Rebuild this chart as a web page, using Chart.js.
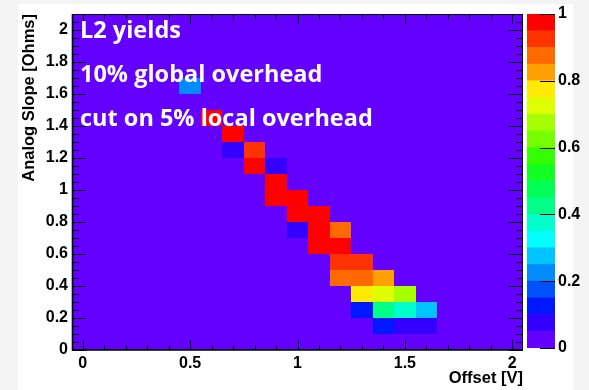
<!DOCTYPE html>
<html>
<head>
<meta charset="utf-8">
<title>L2 yields</title>
<script src="https://cdn.jsdelivr.net/npm/chart.js@4/dist/chart.umd.min.js"></script>
<style>
  html, body { margin: 0; padding: 0; width: 589px; height: 390px; overflow: hidden; background: #f4f4f4; }
  #sheet { position: absolute; left: 18px; top: 4px; width: 555px; height: 386px; background: #ffffff; }
  #main  { position: absolute; left: 0; top: 0; }
  #scale { position: absolute; left: 520px; top: 0; }
</style>
</head>
<body>
<div id="sheet"></div>
<canvas id="main" width="589" height="390"></canvas>
<canvas id="scale" width="69" height="390"></canvas>
<script>
// ---- histogram contents: bin centres and yield per filled bin ----
const offsetCenters = [0.5, 0.6, 0.7, 0.7, 0.8, 0.8, 0.9, 0.9, 0.9, 1.0, 1.0, 1.0, 1.1, 1.1, 1.1,
                       1.2, 1.2, 1.2, 1.2, 1.3, 1.3, 1.3, 1.3, 1.4, 1.4, 1.4, 1.4, 1.5, 1.5, 1.5, 1.6, 1.6];
const slopeCenters  = [1.65, 1.45, 1.35, 1.25, 1.25, 1.15, 1.15, 1.05, 0.95, 0.95, 0.85, 0.75, 0.85, 0.75, 0.65,
                       0.75, 0.65, 0.55, 0.45, 0.55, 0.45, 0.35, 0.25, 0.45, 0.35, 0.25, 0.15, 0.35, 0.25, 0.15, 0.25, 0.15];
const yields        = [0.22, 0.98, 0.97, 0.07, 0.92, 0.98, 0.07, 0.98, 0.98, 0.97, 0.98, 0.07, 0.98, 0.98, 0.97,
                       0.87, 0.97, 0.92, 0.87, 0.92, 0.87, 0.78, 0.12, 0.82, 0.72, 0.42, 0.12, 0.67, 0.37, 0.08, 0.27, 0.08];

// ---- axis ticks ----
const offsetTicks      = [0, 0.5, 1, 1.5, 2];
const offsetTickLabels = ['0', '0.5', '1', '1.5', '2'];
const slopeTicks       = [0, 0.2, 0.4, 0.6, 0.8, 1, 1.2, 1.4, 1.6, 1.8, 2];
const slopeTickLabels  = ['0', '0.2', '0.4', '0.6', '0.8', '1', '1.2', '1.4', '1.6', '1.8', '2'];
const colourTicks      = [0, 0.2, 0.4, 0.6, 0.8, 1];
const colourTickLabels = ['0', '0.2', '0.4', '0.6', '0.8', '1'];

// ---- colour palette: 20 contours between 0 and 1 ----
const contourLevels = [0, 0.05, 0.1, 0.15, 0.2, 0.25, 0.3, 0.35, 0.4, 0.45, 0.5,
                       0.55, 0.6, 0.65, 0.7, 0.75, 0.8, 0.85, 0.9, 0.95, 1];
const paletteColours = ['#6300ff', '#3300ff', '#0018ff', '#0052ff', '#008cff', '#00c4ff', '#00ffff',
                        '#00ffcc', '#00ff88', '#00ff55', '#11ff22', '#33ff00', '#77ff00', '#a6ff00',
                        '#ddff00', '#ffea00', '#ffa000', '#ff6a00', '#ff3300', '#ff0000'];

const annotationLines = ['L2 yields', '10% global overhead', 'cut on 5% local overhead'];

const OFFSET_BIN = 0.1;
const SLOPE_BIN = 0.1;

const axisFont  = { family: 'Liberation Sans', size: 16, weight: 'bold' };
const titleFont = { family: 'Liberation Sans', size: 16.5, weight: 'bold' };
const noteFont  = 'bold 23.5px "Open Sans"';

function colourFor(v) {
  for (let i = 0; i < paletteColours.length; i++) {
    if (v < contourLevels[i + 1]) return paletteColours[i];
  }
  return paletteColours[paletteColours.length - 1];
}

// Frame fill plus one rectangle per filled bin, placed through the chart scales.
const heatmapCells = {
  id: 'heatmapCells',
  beforeDatasetsDraw(chart) {
    const { ctx, chartArea: a, scales: { x, y } } = chart;
    ctx.save();
    ctx.fillStyle = paletteColours[0];
    ctx.fillRect(a.left, a.top, a.right - a.left, a.bottom - a.top);
    chart.data.datasets[0].data.forEach(p => {
      const x0 = Math.round(x.getPixelForValue(p.x - OFFSET_BIN / 2));
      const x1 = Math.round(x.getPixelForValue(p.x + OFFSET_BIN / 2));
      const y0 = Math.round(y.getPixelForValue(p.y + SLOPE_BIN / 2));
      const y1 = Math.round(y.getPixelForValue(p.y - SLOPE_BIN / 2));
      ctx.fillStyle = colourFor(p.v);
      ctx.fillRect(x0, y0, x1 - x0, y1 - y0);
    });
    ctx.restore();
  }
};

// Frame, inward ticks on all four sides and the text block.
const frameAndTicks = {
  id: 'frameAndTicks',
  afterDatasetsDraw(chart) {
    const { ctx, chartArea: a, scales: { x, y } } = chart;
    ctx.save();
    ctx.strokeStyle = '#000';
    ctx.lineWidth = 1;
    ctx.beginPath();
    const vTick = (v, len) => {
      const px = Math.round(x.getPixelForValue(v)) + 0.5;
      ctx.moveTo(px, a.bottom); ctx.lineTo(px, a.bottom - len);
      ctx.moveTo(px, a.top);    ctx.lineTo(px, a.top + len);
    };
    const hTick = (v, len) => {
      const py = Math.round(y.getPixelForValue(v)) + 0.5;
      ctx.moveTo(a.left, py);  ctx.lineTo(a.left + len, py);
      ctx.moveTo(a.right, py); ctx.lineTo(a.right - len, py);
    };
    offsetTicks.forEach(v => vTick(v, 10));
    for (let i = 1; i < 20; i++) if (i % 5) vTick(i / 10, 5);
    slopeTicks.forEach(v => hTick(v, 14));
    for (let i = 1; i < 42; i++) if (i % 4) hTick(i / 20, 7);
    ctx.stroke();

    ctx.strokeRect(a.left + 0.5, a.top + 0.5, a.right - a.left - 1, a.bottom - a.top - 1);
    ctx.lineWidth = 1.6;
    ctx.beginPath();
    ctx.moveTo(a.left + 0.5, a.top);
    ctx.lineTo(a.left + 0.5, a.bottom);
    ctx.lineTo(a.right, a.bottom);
    ctx.stroke();

    ctx.fillStyle = '#ffffff';
    ctx.font = noteFont;
    ctx.textAlign = 'left';
    ctx.textBaseline = 'alphabetic';
    const baselines = [24, 68, 112];
    annotationLines.forEach((t, i) => ctx.fillText(t, a.left + 8, a.top + baselines[i]));
    ctx.restore();
  }
};

new Chart(document.getElementById('main'), {
  type: 'scatter',
  data: {
    datasets: [{
      data: offsetCenters.map((x, i) => ({ x, y: slopeCenters[i], v: yields[i] })),
      pointRadius: 0,
      pointHoverRadius: 0
    }]
  },
  options: {
    responsive: false,
    animation: false,
    devicePixelRatio: 1,
    events: [],
    layout: { padding: { left: 0, top: 14, right: 66, bottom: 0 } },
    plugins: { legend: { display: false }, tooltip: { enabled: false } },
    scales: {
      x: {
        type: 'linear', min: -0.05, max: 2.05,
        afterBuildTicks: s => { s.ticks = offsetTicks.map(v => ({ value: v })); },
        afterFit: s => { s.height = 40; },
        grid: { display: false, drawTicks: false },
        border: { display: false },
        ticks: { padding: 4, color: '#000', font: axisFont, maxRotation: 0, autoSkip: false,
                 callback: (v, i) => offsetTickLabels[i] },
        title: { display: true, text: 'Offset [V]', align: 'end', color: '#000', font: titleFont,
                 padding: { top: 0, bottom: 2 } }
      },
      y: {
        type: 'linear', min: 0, max: 2.1,
        afterBuildTicks: s => { s.ticks = slopeTicks.map(v => ({ value: v })); },
        afterFit: s => { s.width = 72; },
        grid: { display: false, drawTicks: false },
        border: { display: false },
        ticks: { padding: 4, color: '#000', font: axisFont, autoSkip: false,
                 callback: (v, i) => slopeTickLabels[i] },
        title: { display: true, text: 'Analog Slope [Ohms]', align: 'end', color: '#000', font: titleFont,
                 padding: { top: 20, bottom: 0 } }
      }
    }
  },
  plugins: [heatmapCells, frameAndTicks]
});

// Colour scale: one floating bar per contour band.
const colourScaleTicks = {
  id: 'colourScaleTicks',
  afterDatasetsDraw(chart) {
    const { ctx, chartArea: a, scales: { y } } = chart;
    ctx.save();
    ctx.strokeStyle = '#000';
    ctx.lineWidth = 1;
    ctx.beginPath();
    colourTicks.forEach(v => {
      const py = Math.round(y.getPixelForValue(v)) + 0.5;
      ctx.moveTo(a.right, py);
      ctx.lineTo(a.right - 15, py);
    });
    ctx.stroke();
    ctx.restore();
  }
};

new Chart(document.getElementById('scale'), {
  type: 'bar',
  data: {
    labels: [''],
    datasets: paletteColours.map((c, i) => ({
      data: [[contourLevels[i], contourLevels[i + 1]]],
      backgroundColor: c,
      borderWidth: 0,
      grouped: false,
      barPercentage: 1,
      categoryPercentage: 1
    }))
  },
  options: {
    responsive: false,
    animation: false,
    devicePixelRatio: 1,
    events: [],
    layout: { padding: { left: 7, top: 14, right: 0, bottom: 42 } },
    plugins: { legend: { display: false }, tooltip: { enabled: false } },
    scales: {
      x: { display: false },
      y: {
        position: 'right', min: 0, max: 1,
        afterBuildTicks: s => { s.ticks = colourTicks.map(v => ({ value: v })); },
        afterFit: s => { s.width = 34; },
        grid: { display: false, drawTicks: false },
        border: { display: false },
        ticks: { padding: 3, color: '#000', font: axisFont, autoSkip: false,
                 callback: (v, i) => colourTickLabels[i] }
      }
    }
  },
  plugins: [colourScaleTicks]
});
</script>
</body>
</html>
